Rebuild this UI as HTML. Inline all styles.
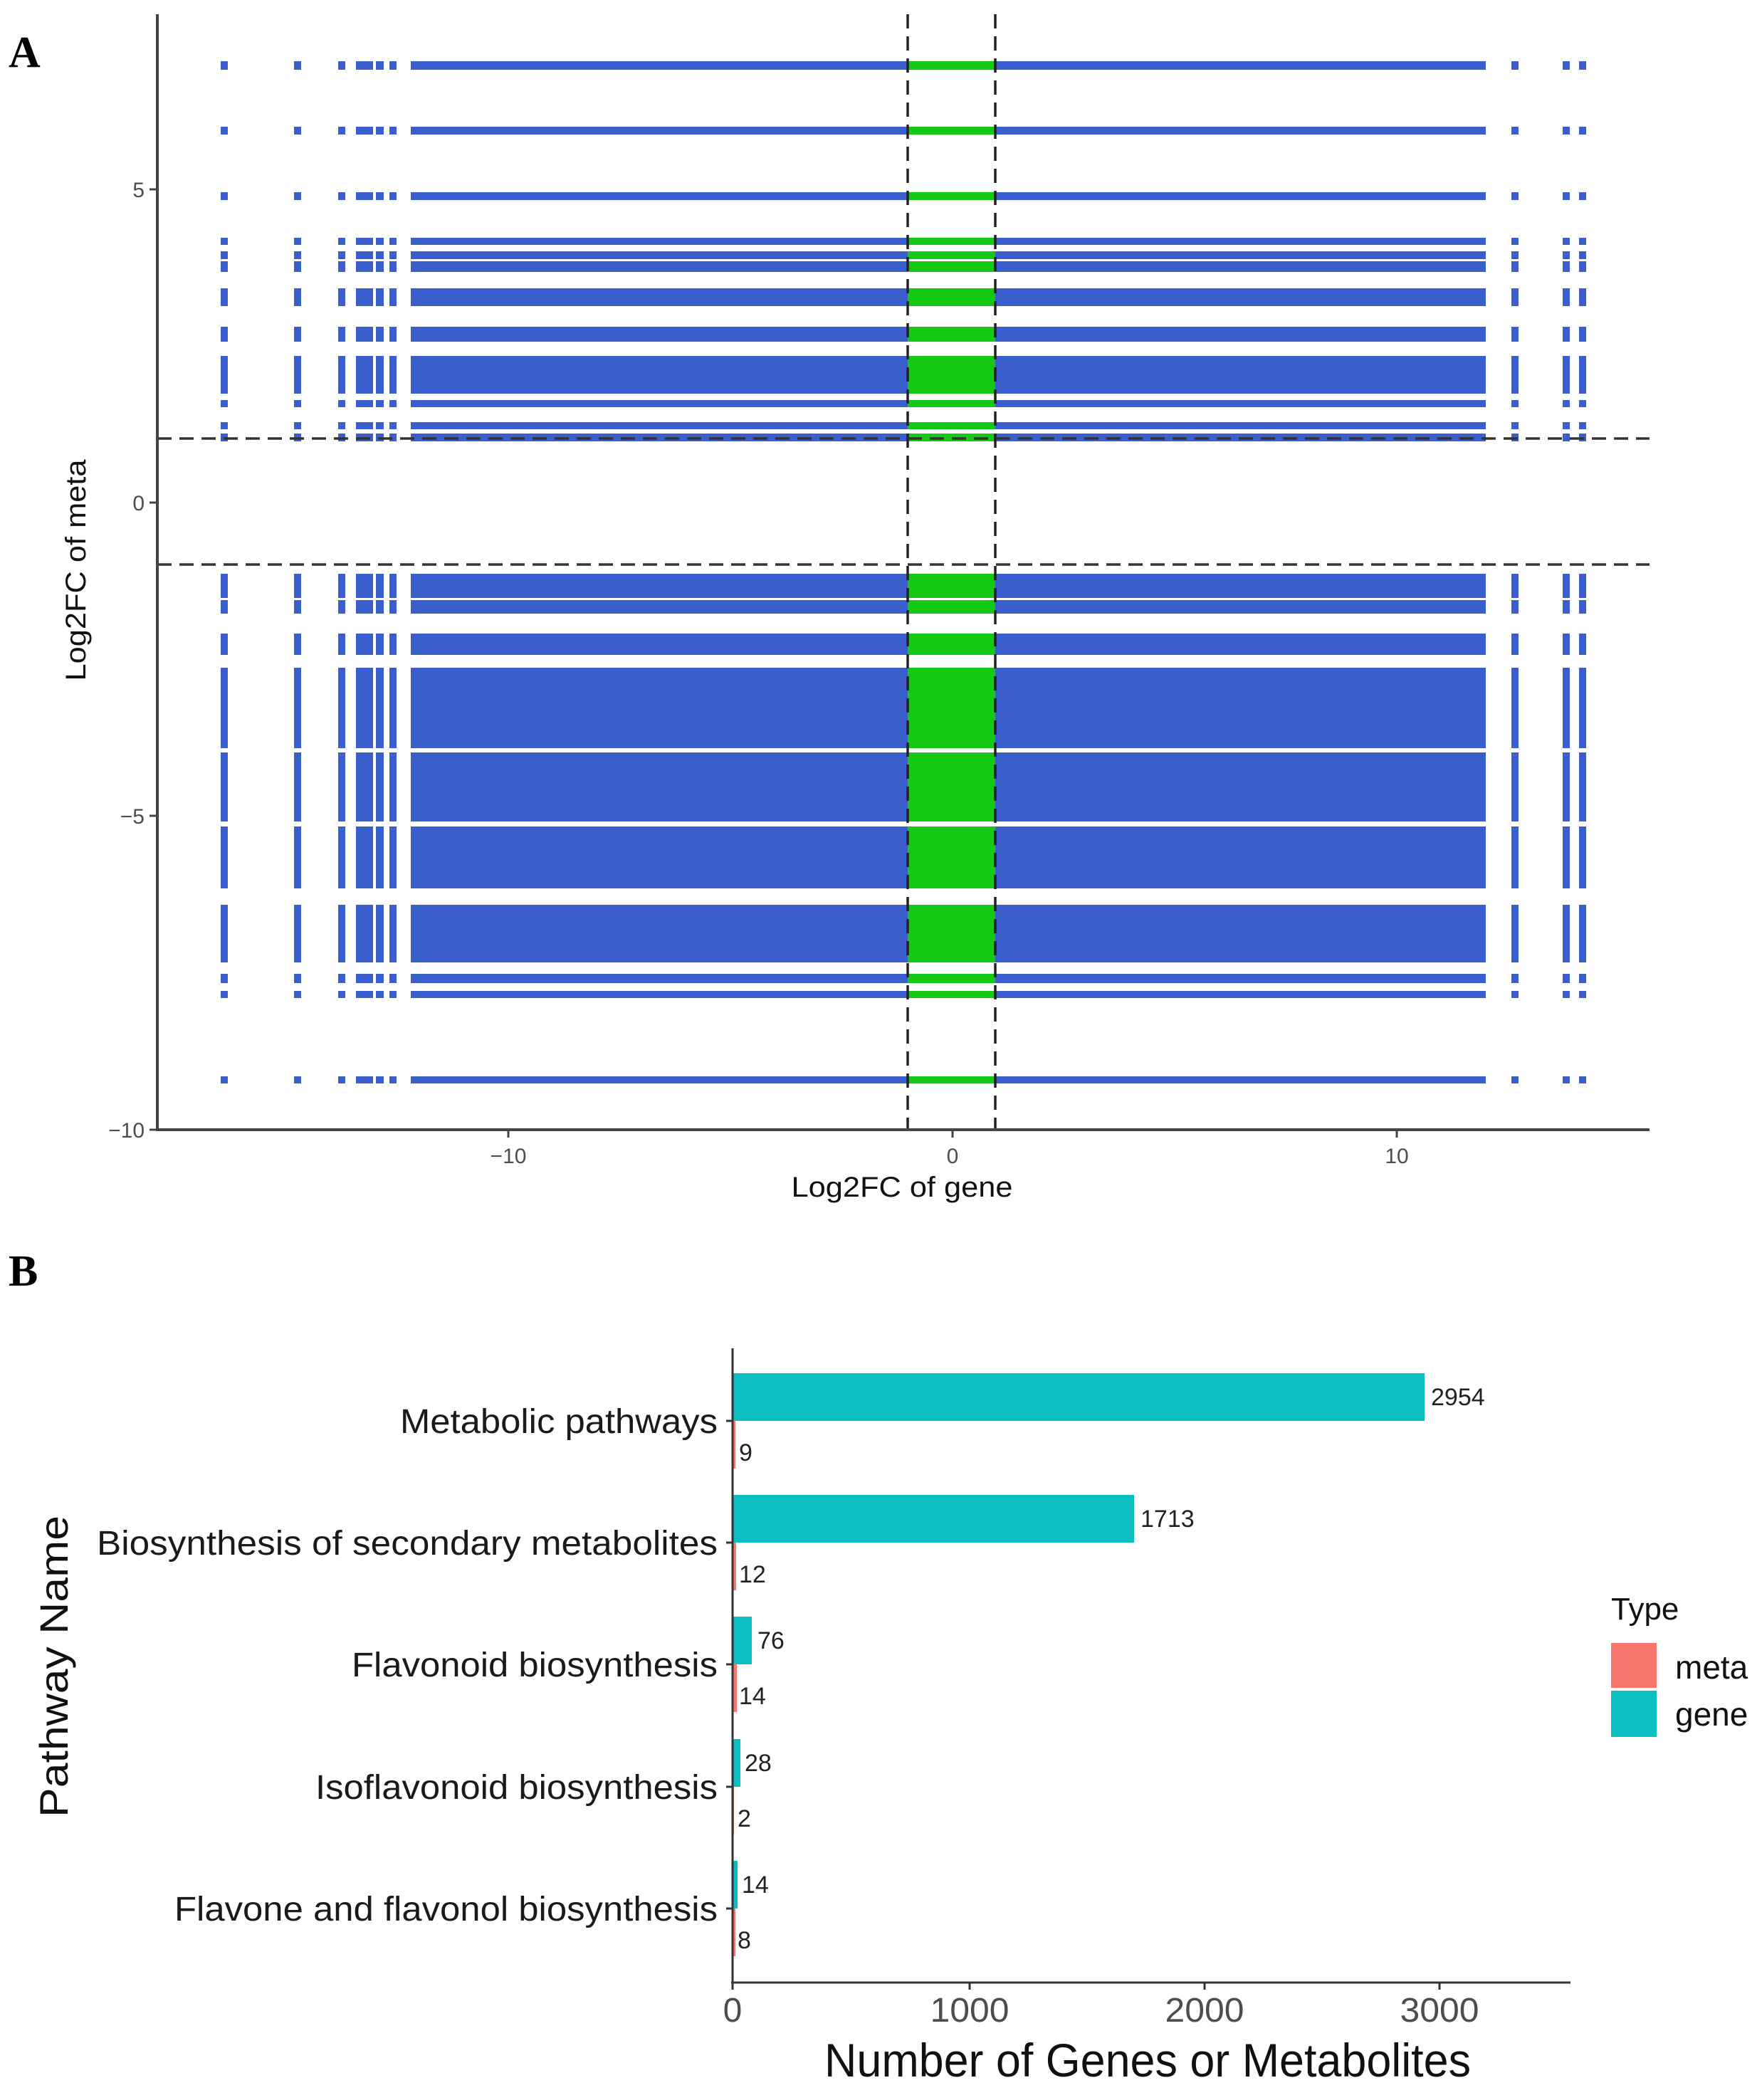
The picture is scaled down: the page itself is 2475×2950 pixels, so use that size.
<!DOCTYPE html>
<html><head><meta charset="utf-8"><style>html,body{margin:0;padding:0;background:#fff}svg{display:block}</style></head>
<body>
<svg xmlns="http://www.w3.org/2000/svg" width="2475" height="2950" viewBox="0 0 2475 2950" font-family="Liberation Sans, sans-serif">
<rect width="2475" height="2950" fill="#fff"/>
<defs>
<clipPath id="rows">
<rect x="0" y="86" width="2475" height="12"/>
<rect x="0" y="178" width="2475" height="11"/>
<rect x="0" y="270" width="2475" height="11"/>
<rect x="0" y="334" width="2475" height="10"/>
<rect x="0" y="353" width="2475" height="11"/>
<rect x="0" y="367" width="2475" height="15"/>
<rect x="0" y="405" width="2475" height="25"/>
<rect x="0" y="459" width="2475" height="21"/>
<rect x="0" y="500" width="2475" height="53"/>
<rect x="0" y="562" width="2475" height="10"/>
<rect x="0" y="593" width="2475" height="10"/>
<rect x="0" y="609" width="2475" height="11"/>
<rect x="0" y="806" width="2475" height="34"/>
<rect x="0" y="843" width="2475" height="19"/>
<rect x="0" y="890" width="2475" height="30"/>
<rect x="0" y="938" width="2475" height="113"/>
<rect x="0" y="1057" width="2475" height="97"/>
<rect x="0" y="1161" width="2475" height="87"/>
<rect x="0" y="1271" width="2475" height="81"/>
<rect x="0" y="1368" width="2475" height="13"/>
<rect x="0" y="1392" width="2475" height="10"/>
<rect x="0" y="1512" width="2475" height="10"/>
</clipPath>
</defs>
<g clip-path="url(#rows)">
<g fill="#3a5fcd">
<rect x="310" y="0" width="10" height="1600"/>
<rect x="413" y="0" width="10" height="1600"/>
<rect x="475" y="0" width="10" height="1600"/>
<rect x="500" y="0" width="24" height="1600"/>
<rect x="528" y="0" width="11" height="1600"/>
<rect x="547" y="0" width="10" height="1600"/>
<rect x="577" y="0" width="1510" height="1600"/>
<rect x="2123" y="0" width="10" height="1600"/>
<rect x="2195" y="0" width="10" height="1600"/>
<rect x="2218" y="0" width="10" height="1600"/>
</g>
<rect x="1275" y="0" width="123" height="1600" fill="#14c814"/>
</g>
<g stroke="#222" stroke-width="3.5" stroke-dasharray="20 11" fill="none">
<line x1="1275" y1="20" x2="1275" y2="1587"/>
<line x1="1398" y1="20" x2="1398" y2="1587"/>
<line x1="221" y1="616" x2="2317" y2="616" stroke="#333"/>
<line x1="221" y1="793" x2="2317" y2="793" stroke="#333"/>
</g>
<g stroke="#444" stroke-width="4">
<line x1="221" y1="20" x2="221" y2="1589"/>
<line x1="219" y1="1587" x2="2317" y2="1587"/>
</g>
<g stroke="#444" stroke-width="3">
<line x1="210" y1="266" x2="221" y2="266"/>
<line x1="210" y1="706" x2="221" y2="706"/>
<line x1="210" y1="1146" x2="221" y2="1146"/>
<line x1="210" y1="1587" x2="221" y2="1587"/>
<line x1="714" y1="1587" x2="714" y2="1598"/>
<line x1="1338" y1="1587" x2="1338" y2="1598"/>
<line x1="1962" y1="1587" x2="1962" y2="1598"/>
</g>
<g fill="#4d4d4d" font-size="30" text-anchor="end">
<text x="203" y="277">5</text>
<text x="203" y="717">0</text>
<text x="203" y="1157">−5</text>
<text x="203" y="1598">−10</text>
</g>
<g fill="#4d4d4d" font-size="30" text-anchor="middle">
<text x="714" y="1634">−10</text>
<text x="1338" y="1634">0</text>
<text x="1962" y="1634">10</text>
</g>
<text x="1267" y="1681" font-size="40" text-anchor="middle" fill="#111" textLength="311" lengthAdjust="spacingAndGlyphs">Log2FC of gene</text>
<text transform="translate(120,801) rotate(-90)" font-size="40" text-anchor="middle" fill="#111" textLength="311" lengthAdjust="spacingAndGlyphs">Log2FC of meta</text>
<text x="12" y="94" font-family="Liberation Serif, serif" font-weight="bold" font-size="62">A</text>
<text x="12" y="1806" font-family="Liberation Serif, serif" font-weight="bold" font-size="62">B</text>

<g fill="#0bbfc1">
<rect x="1029" y="1929" width="972" height="67"/>
<rect x="1029" y="2100" width="564" height="67"/>
<rect x="1029" y="2271" width="27" height="67"/>
<rect x="1029" y="2443" width="11" height="67"/>
<rect x="1029" y="2614" width="7" height="67"/>
</g>
<g fill="#f8766d">
<rect x="1029" y="1996" width="4" height="67"/>
<rect x="1029" y="2167" width="5" height="67"/>
<rect x="1029" y="2338" width="6" height="67"/>
<rect x="1029" y="2510" width="2" height="67"/>
<rect x="1029" y="2681" width="4" height="67"/>
</g>
<g stroke="#333" stroke-width="3">
<line x1="1029" y1="1894" x2="1029" y2="2787"/>
<line x1="1027" y1="2785" x2="2206" y2="2785"/>
<line x1="1020" y1="1996" x2="1029" y2="1996"/>
<line x1="1020" y1="2167" x2="1029" y2="2167"/>
<line x1="1020" y1="2338" x2="1029" y2="2338"/>
<line x1="1020" y1="2510" x2="1029" y2="2510"/>
<line x1="1020" y1="2681" x2="1029" y2="2681"/>
<line x1="1029" y1="2785" x2="1029" y2="2795"/>
<line x1="1362" y1="2785" x2="1362" y2="2795"/>
<line x1="1692" y1="2785" x2="1692" y2="2795"/>
<line x1="2022" y1="2785" x2="2022" y2="2795"/>
</g>
<g fill="#1a1a1a" font-size="48" text-anchor="end">
<text x="1008" y="2013" textLength="446" lengthAdjust="spacingAndGlyphs">Metabolic pathways</text>
<text x="1008" y="2184" textLength="872" lengthAdjust="spacingAndGlyphs">Biosynthesis of secondary metabolites</text>
<text x="1008" y="2355" textLength="514" lengthAdjust="spacingAndGlyphs">Flavonoid biosynthesis</text>
<text x="1008" y="2527" textLength="565" lengthAdjust="spacingAndGlyphs">Isoflavonoid biosynthesis</text>
<text x="1008" y="2698" textLength="763" lengthAdjust="spacingAndGlyphs">Flavone and flavonol biosynthesis</text>
</g>
<g fill="#222" font-size="34">
<text x="2010" y="1974">2954</text>
<text x="1038" y="2052">9</text>
<text x="1602" y="2145">1713</text>
<text x="1038" y="2223">12</text>
<text x="1064" y="2316">76</text>
<text x="1038" y="2394">14</text>
<text x="1046" y="2488">28</text>
<text x="1036" y="2566">2</text>
<text x="1042" y="2659">14</text>
<text x="1036" y="2737">8</text>
</g>
<g fill="#4d4d4d" font-size="48" text-anchor="middle">
<text x="1029" y="2840">0</text>
<text x="1362" y="2840" textLength="111" lengthAdjust="spacingAndGlyphs">1000</text>
<text x="1692" y="2840" textLength="111" lengthAdjust="spacingAndGlyphs">2000</text>
<text x="2022" y="2840" textLength="111" lengthAdjust="spacingAndGlyphs">3000</text>
</g>
<text x="1612" y="2917" font-size="66" text-anchor="middle" fill="#111" textLength="908" lengthAdjust="spacingAndGlyphs">Number of Genes or Metabolites</text>
<text transform="translate(95,2341) rotate(-90)" font-size="56" text-anchor="middle" fill="#111" textLength="424" lengthAdjust="spacingAndGlyphs">Pathway Name</text>
<text x="2263" y="2275" font-size="44" fill="#111">Type</text>
<rect x="2263" y="2308" width="64" height="63" fill="#f8766d"/>
<rect x="2263" y="2375" width="64" height="65" fill="#0bbfc1"/>
<text x="2353" y="2358" font-size="46" fill="#111">meta</text>
<text x="2353" y="2424" font-size="46" fill="#111">gene</text>
</svg>
</body></html>
